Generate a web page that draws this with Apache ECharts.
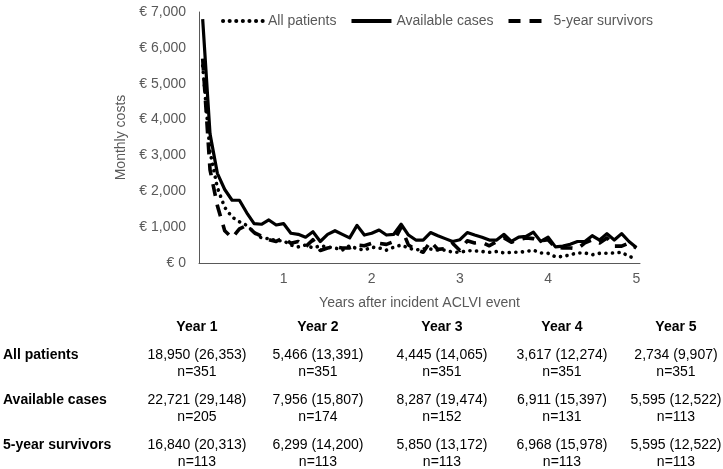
<!DOCTYPE html>
<html><head><meta charset="utf-8">
<script src="https://cdn.jsdelivr.net/npm/echarts@6/dist/echarts.min.js"></script>
<style>html,body{margin:0;padding:0;background:#fff}#c{width:723px;height:469px}</style>
</head><body><div id="c"></div>
<script>
// Month index after the incident event (1..60)
const months = [1,2,3,4,5,6,7,8,9,10,11,12,13,14,15,16,17,18,19,20,21,22,23,24,25,26,27,28,29,30,
  31,32,33,34,35,36,37,38,39,40,41,42,43,44,45,46,47,48,49,50,51,52,53,54,55,56,57,58,59,60];

const seriesNames = ['All patients', 'Available cases', '5-year survivors'];

// Monthly costs (EUR)
const allPatients = [5500,3100,2100,1550,1280,1150,1050,850,700,680,620,620,
  500,450,500,420,480,450,420,360,480,400,360,440,
  420,360,440,500,420,360,400,390,360,360,300,300,
  340,340,320,300,320,280,300,300,320,360,280,270,
  170,180,230,280,280,230,270,270,280,300,180,130];

const availableCases = [6800,3600,2500,2050,1750,1750,1400,1100,1080,1200,1060,1100,
  830,800,720,870,600,800,900,800,700,1050,780,830,
  920,780,800,1080,780,640,640,850,760,680,600,650,
  850,780,720,640,640,800,600,720,740,860,600,720,
  450,470,520,600,600,760,640,820,640,820,600,430];

const survivors5y = [5700,2600,1600,900,700,950,1050,850,750,650,600,700,
  550,600,450,650,350,420,450,420,420,500,480,550,
  550,520,600,1000,500,380,300,600,380,400,550,350,
  620,560,580,480,600,700,580,650,700,680,620,650,
  430,420,420,400,560,650,560,700,470,470,560,420];

// Table below the chart
const yearLabels = ['Year 1','Year 2','Year 3','Year 4','Year 5'];
const rowLabels = ['All patients','Available cases','5-year survivors'];
const meanSd = [
  ['18,950 (26,353)','5,466 (13,391)','4,445 (14,065)','3,617 (12,274)','2,734 (9,907)'],
  ['22,721 (29,148)','7,956 (15,807)','8,287 (19,474)','6,911 (15,397)','5,595 (12,522)'],
  ['16,840 (20,313)','6,299 (14,200)','5,850 (13,172)','6,968 (15,978)','5,595 (12,522)']
];
const nCounts = [
  [351,351,351,351,351],
  [205,174,152,131,113],
  [113,113,113,113,113]
];

const FONT = "'Liberation Sans', Arial, sans-serif";
const GREY = '#595959';

const colX = [197, 318, 442, 562, 676];
const headerY = 327;
const rowY = [355, 400, 445];
const graphics = [];
yearLabels.forEach((t, i) => graphics.push({
  type: 'text', x: colX[i], y: headerY,
  style: { text: t, font: 'bold 14px ' + FONT, fill: '#000', align: 'center', verticalAlign: 'middle' }
}));
rowLabels.forEach((t, r) => {
  graphics.push({
    type: 'text', x: 3, y: rowY[r],
    style: { text: t, font: 'bold 14px ' + FONT, fill: '#000', align: 'left', verticalAlign: 'middle' }
  });
  meanSd[r].forEach((v, c) => {
    graphics.push({
      type: 'text', x: colX[c], y: rowY[r],
      style: { text: v, font: '14px ' + FONT, fill: '#000', align: 'center', verticalAlign: 'middle' }
    });
    graphics.push({
      type: 'text', x: colX[c], y: rowY[r] + 17,
      style: { text: 'n=' + nCounts[r][c], font: '14px ' + FONT, fill: '#000', align: 'center', verticalAlign: 'middle' }
    });
  });
});

const styles = [
  { type: [0.1, 6.5], width: 3.6, cap: 'round' },
  { type: 'solid', width: 3.2 },
  { type: [12, 9], width: 3.6, cap: 'butt' }
];
const dataSets = [allPatients, availableCases, survivors5y];

const chart = echarts.init(document.getElementById('c'), null, { renderer: 'canvas' });
chart.setOption({
  animation: false,
  textStyle: { fontFamily: FONT },
  legend: {
    left: 216, top: 9,
    itemWidth: 40, itemHeight: 14, itemGap: 13,
    itemStyle: { opacity: 0 },
    lineStyle: { width: 4 },
    textStyle: { color: GREY, fontSize: 14, fontFamily: FONT },
    data: seriesNames
  },
  grid: { left: 199, right: 83, top: 12, bottom: 206, containLabel: false },
  xAxis: {
    type: 'category',
    data: months,
    boundaryGap: true,
    axisLine: { lineStyle: { color: GREY, width: 1 } },
    axisTick: { show: false },
    axisLabel: {
      interval: (idx) => (idx + 1) % 12 === 0,
      formatter: (v) => String(Number(v) / 12),
      color: GREY, fontSize: 14, margin: 9, fontFamily: FONT
    },
    name: 'Years after incident ACLVI event',
    nameLocation: 'middle', nameGap: 33,
    nameTextStyle: { color: GREY, fontSize: 14, fontFamily: FONT }
  },
  yAxis: {
    type: 'value', min: 0, max: 7000, interval: 1000,
    axisLine: { show: true, lineStyle: { color: GREY, width: 1 } },
    axisTick: { show: false },
    splitLine: { show: false },
    axisLabel: {
      formatter: (v) => '€ ' + v.toLocaleString('en-US'),
      color: GREY, fontSize: 14, margin: 13, fontFamily: FONT
    },
    name: 'Monthly costs',
    nameLocation: 'middle', nameGap: 58,
    nameTextStyle: { color: GREY, fontSize: 14, fontFamily: FONT }
  },
  series: seriesNames.map((n, i) => ({
    name: n, type: 'line', data: dataSets[i],
    symbol: 'none', showSymbol: false,
    itemStyle: { color: '#000' },
    lineStyle: Object.assign({ color: '#000', join: 'round' }, styles[i])
  })),
  graphic: graphics
});
</script>
</body></html>
